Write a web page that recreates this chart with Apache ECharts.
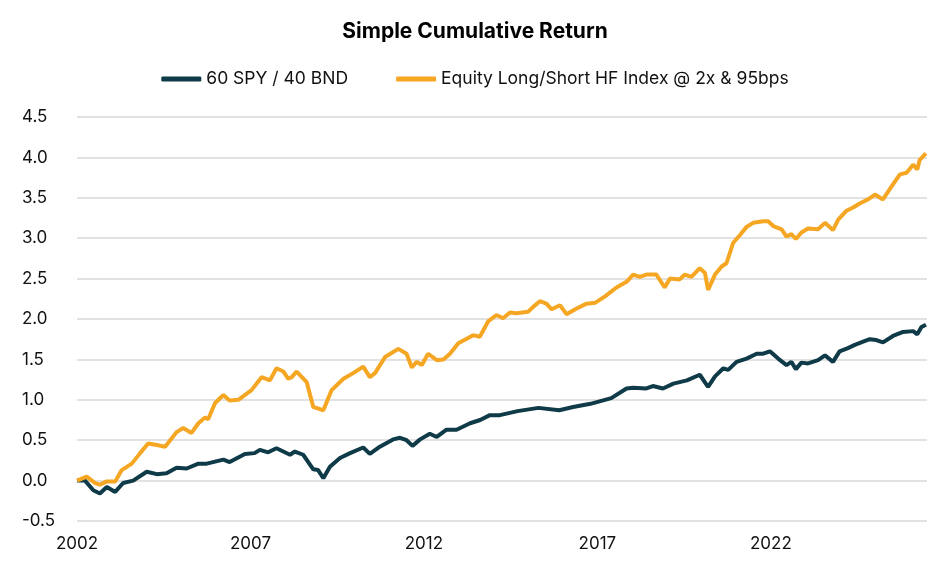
<!DOCTYPE html>
<html><head><meta charset="utf-8">
<script src="https://cdn.jsdelivr.net/npm/echarts@6/dist/echarts.min.js"></script>
<style>html,body{margin:0;padding:0;background:#fff}#c{width:950px;height:572px}</style>
</head><body><div id="c"></div>
<script>
const hfYears = [2002.0,2002.28,2002.52,2002.66,2002.86,2003.1,2003.29,2003.58,2003.82,2004.05,2004.3,2004.54,2004.87,2005.06,2005.3,2005.5,2005.69,2005.78,2005.98,2006.22,2006.4,2006.65,2007.03,2007.32,2007.56,2007.75,2007.95,2008.09,2008.19,2008.33,2008.62,2008.81,2008.9,2009.1,2009.34,2009.68,2009.96,2010.25,2010.44,2010.59,2010.88,2011.26,2011.5,2011.65,2011.79,2011.94,2012.12,2012.37,2012.56,2012.75,2012.99,2013.42,2013.61,2013.85,2014.09,2014.28,2014.48,2014.67,2015.0,2015.15,2015.34,2015.53,2015.68,2015.92,2016.11,2016.4,2016.69,2016.93,2017.22,2017.55,2017.84,2018.03,2018.22,2018.41,2018.7,2018.94,2019.09,2019.37,2019.52,2019.71,2019.95,2020.1,2020.19,2020.39,2020.58,2020.72,2020.91,2021.11,2021.3,2021.49,2021.78,2021.92,2022.07,2022.31,2022.45,2022.59,2022.72,2022.88,2023.07,2023.36,2023.56,2023.79,2023.94,2024.18,2024.37,2024.56,2024.8,2025.0,2025.23,2025.48,2025.72,2025.91,2026.1,2026.22,2026.29,2026.47];
const hfValues = [0,0.05,-0.03,-0.05,-0.01,-0.01,0.13,0.21,0.34,0.46,0.44,0.42,0.6,0.65,0.59,0.71,0.78,0.76,0.96,1.06,0.99,1.0,1.12,1.28,1.24,1.39,1.35,1.26,1.28,1.35,1.22,0.91,0.9,0.87,1.12,1.26,1.33,1.41,1.28,1.33,1.53,1.63,1.57,1.4,1.47,1.43,1.57,1.49,1.5,1.57,1.7,1.8,1.78,1.97,2.05,2.01,2.08,2.07,2.09,2.15,2.22,2.19,2.12,2.17,2.06,2.13,2.19,2.2,2.28,2.39,2.46,2.55,2.52,2.55,2.55,2.39,2.5,2.49,2.55,2.52,2.63,2.57,2.36,2.55,2.65,2.69,2.94,3.04,3.14,3.19,3.21,3.21,3.15,3.11,3.02,3.05,2.99,3.07,3.12,3.11,3.19,3.1,3.23,3.34,3.38,3.43,3.48,3.54,3.48,3.64,3.79,3.81,3.91,3.85,3.97,4.05];
const pfYears = [2002.0,2002.23,2002.47,2002.66,2002.86,2003.1,2003.33,2003.62,2004.01,2004.3,2004.58,2004.87,2005.16,2005.5,2005.74,2006.22,2006.4,2006.84,2007.12,2007.27,2007.51,2007.75,2008.14,2008.28,2008.52,2008.81,2008.95,2009.1,2009.29,2009.58,2009.87,2010.25,2010.44,2010.73,2011.11,2011.31,2011.5,2011.67,2011.89,2012.17,2012.37,2012.65,2012.94,2013.33,2013.62,2013.9,2014.19,2014.7,2015.3,2015.9,2016.3,2016.8,2017.4,2017.84,2018.03,2018.41,2018.6,2018.89,2019.19,2019.58,2019.95,2020.19,2020.39,2020.63,2020.77,2021.01,2021.3,2021.59,2021.78,2021.97,2022.21,2022.45,2022.59,2022.72,2022.88,2023.07,2023.36,2023.56,2023.79,2023.98,2024.22,2024.42,2024.66,2024.85,2025.04,2025.23,2025.52,2025.81,2026.1,2026.22,2026.34,2026.47];
const pfValues = [0,0,-0.12,-0.16,-0.08,-0.14,-0.03,0,0.11,0.08,0.09,0.16,0.15,0.21,0.21,0.26,0.23,0.33,0.34,0.38,0.35,0.4,0.32,0.36,0.32,0.14,0.13,0.03,0.17,0.28,0.34,0.41,0.33,0.42,0.51,0.53,0.5,0.43,0.51,0.58,0.54,0.63,0.63,0.71,0.75,0.81,0.81,0.86,0.9,0.87,0.91,0.95,1.02,1.14,1.15,1.14,1.17,1.14,1.2,1.24,1.31,1.16,1.29,1.39,1.37,1.47,1.51,1.57,1.57,1.6,1.51,1.43,1.47,1.38,1.46,1.45,1.49,1.55,1.47,1.6,1.64,1.68,1.72,1.75,1.74,1.71,1.79,1.84,1.85,1.81,1.9,1.93];
const seriesNames = ['60 SPY / 40 BND','Equity Long/Short HF Index @ 2x & 95bps'];
const zip = (a,b)=>a.map((x,i)=>[x,b[i]]);
const chart = echarts.init(document.getElementById('c'));
const F = 'Inter, "Noto Sans", sans-serif';
chart.setOption({
  animation:false,
  title:{text:'Simple Cumulative Return',left:'center',top:16,textStyle:{fontFamily:F,fontSize:21,fontWeight:'bold',color:'#000'}},
  legend:{top:65,left:'center',itemWidth:40,itemHeight:5,itemGap:48,icon:'roundRect',textStyle:{fontFamily:F,fontSize:17.5,color:'#111'},data:seriesNames},
  grid:{left:77,right:23,top:117,bottom:51},
  xAxis:{type:'value',min:2002,max:2026.5,interval:5,splitLine:{show:false},axisTick:{show:false},axisLine:{show:false},
    axisLabel:{showMaxLabel:false,fontFamily:F,fontSize:17,color:'#111',margin:14,formatter:v=>String(v)}},
  yAxis:{type:'value',min:-0.5,max:4.5,interval:0.5,axisLine:{show:false},axisTick:{show:false},
    splitLine:{lineStyle:{color:'#d9d9d9',width:1.5}},
    axisLabel:{fontFamily:F,fontSize:17,color:'#111',margin:55,align:'left',formatter:v=>v.toFixed(1)}},
  series:[
    {name:seriesNames[0],type:'line',data:zip(pfYears,pfValues),showSymbol:false,lineStyle:{width:4,color:'#0f3a47'},itemStyle:{color:'#0f3a47'}},
    {name:seriesNames[1],type:'line',data:zip(hfYears,hfValues),showSymbol:false,lineStyle:{width:4,color:'#f5a623'},itemStyle:{color:'#f5a623'}}
  ]
});
</script></body></html>
